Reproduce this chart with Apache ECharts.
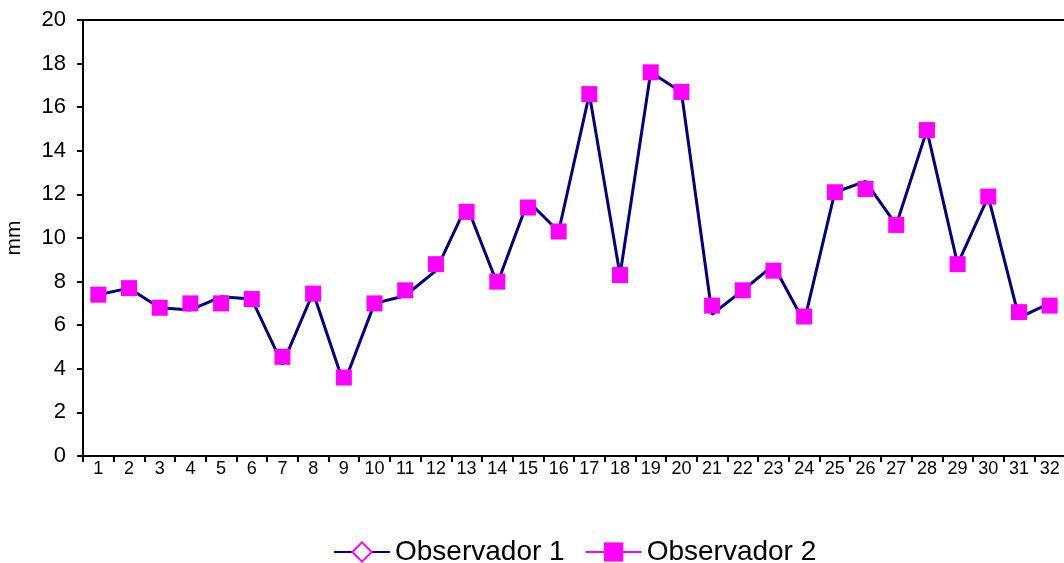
<!DOCTYPE html>
<html>
<head>
<meta charset="utf-8">
<script src="https://cdn.jsdelivr.net/npm/echarts@6/dist/echarts.min.js"></script>
<style>
  html, body { margin: 0; padding: 0; background: #fff; }
  #chart { width: 1064px; height: 563px; }
</style>
</head>
<body>
<div id="chart"></div>
<script>
// Measurements per sample (mm)
const categories = ['1','2','3','4','5','6','7','8','9','10','11','12','13','14','15','16',
                    '17','18','19','20','21','22','23','24','25','26','27','28','29','30','31','32'];
const observador1 = [7.4, 7.7, 6.8, 6.7, 7.3, 7.2, 4.2, 7.5, 3.3, 7.0, 7.35, 8.5, 11.5, 7.9, 11.7, 10.3,
                     16.6, 8.3, 17.6, 16.7, 6.5, 7.6, 8.75, 6.15, 12.1, 12.6, 10.6, 14.95, 8.8, 11.9, 6.35, 7.0];
const observador2 = [7.4, 7.7, 6.8, 7.0, 7.0, 7.2, 4.55, 7.45, 3.6, 7.0, 7.6, 8.8, 11.2, 8.0, 11.4, 10.3,
                     16.6, 8.3, 17.6, 16.7, 6.9, 7.6, 8.5, 6.4, 12.1, 12.25, 10.6, 14.95, 8.8, 11.9, 6.6, 6.9];
const yTicks = { min: 0, max: 20, interval: 2 };

const NAVY = '#000080';
const MAGENTA = '#ff00ff';
const FONT = 'Liberation Sans, Arial, sans-serif';

const chart = echarts.init(document.getElementById('chart'), null, { renderer: 'canvas' });
chart.setOption({
  animation: false,
  backgroundColor: '#fff',
  grid: {
    left: 83, top: 20, width: 982, bottom: 107,
    containLabel: false,
    outerBoundsMode: 'none',
    show: true, borderColor: '#000', borderWidth: 2, backgroundColor: 'transparent'
  },
  legend: {
    left: 328, top: 533,
    itemWidth: 56, itemHeight: 24, itemGap: 20,
    textStyle: { fontFamily: FONT, fontSize: 28, color: '#000' },
    data: [
      { name: 'Observador 1' },
      { name: 'Observador 2', lineStyle: { opacity: 1, color: MAGENTA, width: 2 } }
    ]
  },
  xAxis: {
    type: 'category',
    data: categories,
    boundaryGap: true,
    axisLine: { lineStyle: { color: '#000', width: 2 } },
    axisTick: { show: true, length: 6, inside: false, lineStyle: { color: '#000', width: 2 } },
    axisLabel: { color: '#000', fontFamily: FONT, fontSize: 18, margin: 4, interval: 0 },
    splitLine: { show: false }
  },
  yAxis: {
    type: 'value',
    min: yTicks.min, max: yTicks.max, interval: yTicks.interval,
    name: 'mm',
    nameLocation: 'middle',
    nameGap: 58,
    nameRotate: 90,
    nameTextStyle: { color: '#000', fontFamily: FONT, fontSize: 21 },
    axisLine: { show: true, lineStyle: { color: '#000', width: 2 } },
    axisTick: { show: true, length: 6, lineStyle: { color: '#000', width: 2 } },
    axisLabel: { color: '#000', fontFamily: FONT, fontSize: 22, margin: 17 },
    splitLine: { show: false }
  },
  series: [
    {
      name: 'Observador 1',
      type: 'line',
      data: observador1,
      symbol: 'emptyDiamond',
      showSymbol: false,
      itemStyle: { color: MAGENTA },
      lineStyle: { color: NAVY, width: 3 },
      z: 2
    },
    {
      name: 'Observador 2',
      type: 'line',
      data: observador2,
      symbol: 'rect',
      symbolSize: 16,
      itemStyle: { color: MAGENTA, borderWidth: 0 },
      lineStyle: { color: MAGENTA, width: 2, opacity: 0 },
      z: 3
    }
  ]
});
</script>
</body>
</html>
